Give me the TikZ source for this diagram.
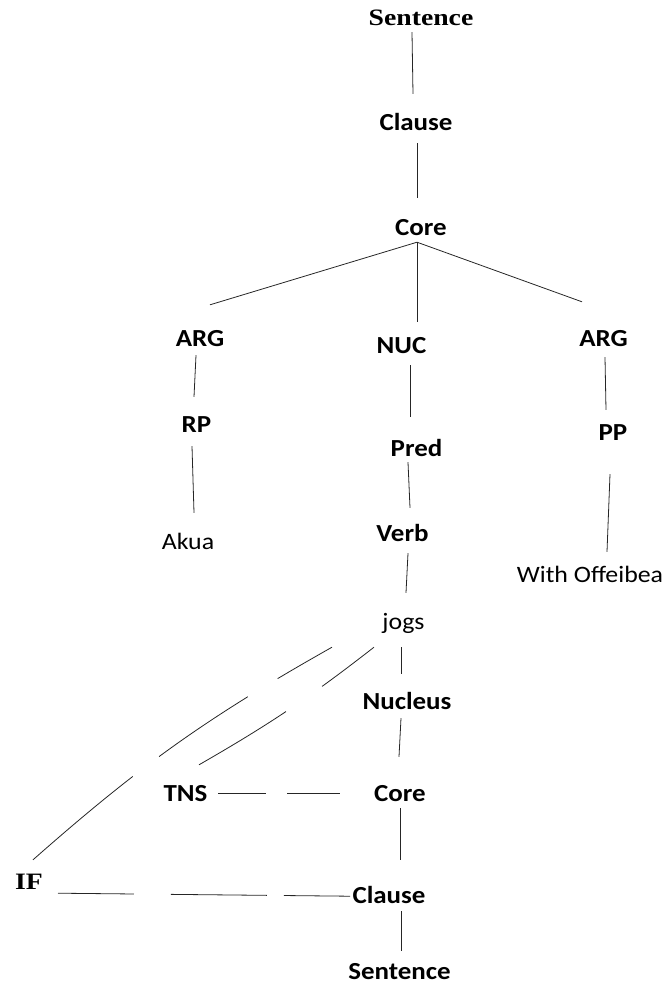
\documentclass[tikz,border=0pt]{standalone}
\usepackage{fontspec}
\setmainfont[FakeStretch=1.1]{Carlito}
\newfontfamily\treeserif[FakeStretch=1.18]{Liberation Serif}
\usepackage{tikz}

\begin{document}
\begin{tikzpicture}[
x = 1pt, y = -1pt,
lbl/.style={inner sep = 0pt, anchor = base, text height = 15pt, text depth = 0pt, font=\fontsize{24.5}{28}\selectfont\bfseries},
word/.style={lbl, font=\fontsize{23.5}{28}\selectfont},
serifbox/.style={lbl, font=\fontsize{23.5}{28}\selectfont\treeserif\bfseries},
link/.style={draw=black!85, line width = 0.8pt}]

\useasboundingbox (0,0) rectangle (662,986);

% upper tree
\node[serifbox] (S0) at (421,25) {Sentence};
\node[lbl] (C0) at (416,130) {Clause};
\node[lbl] (K0) at (421,235) {Core};
\node[lbl] (A1) at (200,346) {ARG};
\node[lbl] (N0) at (401.5,353) {NUC};
\node[lbl] (A2) at (603.5,346) {ARG};
\node[lbl] (R0) at (196.5,432) {RP};
\node[lbl] (P0) at (416.5,456) {Pred};
\node[lbl] (P1) at (613,440) {PP};
\node[word] (L0) at (188,549) {Akua};
\node[lbl] (V0) at (402.5,541) {Verb};
\node[word] (W0) at (590,582) {With Offeibea};
\node[word] (J0) at (403.5,629) {jogs};

% operator projection
\node[lbl] (N1) at (407,709) {Nucleus};
\node[lbl] (K1) at (400,801) {Core};
\node[lbl] (T0) at (185.5,801) {TNS};
\node[serifbox] (I0) at (29,889) {IF};
\node[lbl] (C1) at (389,903) {Clause};
\node[lbl] (S1) at (399.5,979) {Sentence};

\draw[link] ([shift={(-9,7)}]S0.south) -- ([shift={(-3,-21)}]C0.north);
\draw[link] ([shift={(1,13)}]C0.south) -- ([shift={(-4,-22)}]K0.north);
\draw[link] ([shift={(-4,7)}]K0.south) -- ([shift={(10,-26)}]A1.north);
\draw[link] ([shift={(-4,7)}]K0.south) -- ([shift={(15.5,-16)}]N0.north);
\draw[link] ([shift={(-4,7)}]K0.south) -- ([shift={(-21.5,-29)}]A2.north);

\draw[link] ([shift={(-4,9)}]A1.south) -- ([shift={(-2.5,-20)}]R0.north);
\draw[link] ([shift={(-4.5,14)}]R0.south) -- ([shift={(6,-21)}]L0.north);
\draw[link] ([shift={(8.5,12)}]N0.south) -- ([shift={(-6.5,-24)}]P0.north);
\draw[link] ([shift={(-8.5,6)}]P0.south) -- ([shift={(7.5,-18)}]V0.north);
\draw[link] ([shift={(5.5,12)}]V0.south) -- ([shift={(2.5,-21)}]J0.north);
\draw[link] ([shift={(1.5,11)}]A2.south) -- ([shift={(-7,-15)}]P1.north);
\draw[link] ([shift={(-3,34)}]P1.south) -- ([shift={(17,-15)}]W0.north);

\draw[link] ([shift={(-2.5,18)}]J0.south) -- ([shift={(-6,-20)}]N1.north);
\draw[link] ([shift={(-6,9)}]N1.south) -- ([shift={(-1,-29)}]K1.north);
\draw[link] ([shift={(0,7)}]K1.south) -- ([shift={(11,-28)}]C1.north);
\draw[link] ([shift={(12,8)}]C1.south) -- ([shift={(1.5,-13)}]S1.north);

% broken connectors
\draw[link, dash pattern=on 48pt off 21pt on 60pt] ([shift={(32.5,-8)}]T0.south) -- ([shift={(-60,-8)}]K1.south);
\draw[link, dash pattern=on 76pt off 37pt on 96pt off 17pt on 80pt] ([shift={(29,4)}]I0.south) -- ([shift={(-39,-7)}]C1.south);
\draw[link, dash pattern=on 130pt off 33pt on 107pt off 35pt on 80pt] ([shift={(4,-14)}]I0.north) to[bend left=6] ([shift={(-71.5,18)}]J0.south);
\draw[link, dash pattern=on 102pt off 44pt on 80pt] ([shift={(13.5,-21)}]T0.north) to[bend right=4] ([shift={(-29.5,18)}]J0.south);
\end{tikzpicture}
\end{document}
